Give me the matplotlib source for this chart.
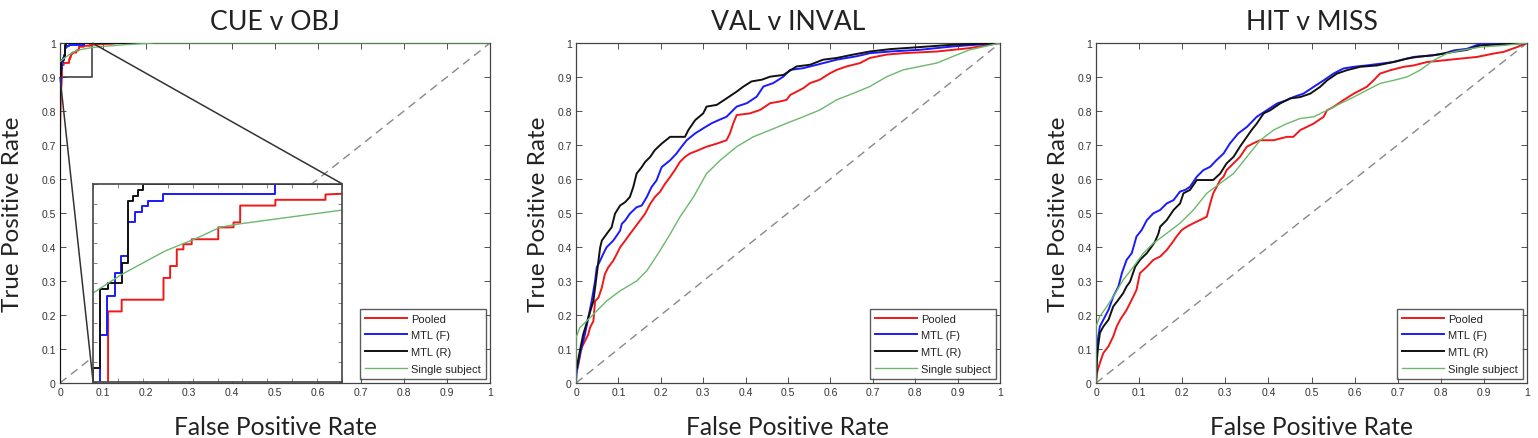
import matplotlib
matplotlib.use("Agg")
import matplotlib.pyplot as plt
from matplotlib.ticker import MultipleLocator, NullFormatter
from mpl_toolkits.axes_grid1.inset_locator import mark_inset

titles = ["CUE v OBJ", "VAL v INVAL", "HIT v MISS"]
series_names = ["Pooled", "MTL (F)", "MTL (R)", "Single subject"]
tick_vals = [0, 0.1, 0.2, 0.3, 0.4, 0.5, 0.6, 0.7, 0.8, 0.9, 1]
tick_labels = ["0", "0.1", "0.2", "0.3", "0.4", "0.5", "0.6", "0.7", "0.8", "0.9", "1"]

# ---- Panel 1: CUE v OBJ ----
p1_pooled_x = [0, 0, 0.002, 0.0045, 0.0045, 0.0086, 0.0086, 0.0212, 0.0212, 0.0232, 0.0232, 0.0252, 0.0252,
               0.0272, 0.0272, 0.0297, 0.0297, 0.0377, 0.0377, 0.0423, 0.0423, 0.0443, 0.0443, 0.0549,
               0.0549, 0.070, 0.070, 0.09, 0.12, 0.135, 1.0]
p1_pooled_y = [0, 0.73, 0.85, 0.90, 0.9356, 0.9356, 0.9415, 0.9415, 0.9525, 0.9525, 0.9585, 0.9585, 0.9669,
               0.9669, 0.9695, 0.9695, 0.972, 0.972, 0.978, 0.978, 0.9805, 0.9805, 0.989, 0.989,
               0.9919, 0.9919, 0.9946, 0.996, 0.998, 1.0, 1.0]
p1_mtlf_x = [0, 0, 0.002, 0.002, 0.00405, 0.00405, 0.0065, 0.0065, 0.00855, 0.00855, 0.0106, 0.0106,
             0.0126, 0.0126, 0.0146, 0.0146, 0.0166, 0.0166, 0.0212, 0.0212, 0.0549, 0.0549, 1.0]
p1_mtlf_y = [0, 0.86, 0.86, 0.9237, 0.9237, 0.9432, 0.9432, 0.9551, 0.9551, 0.9636, 0.9636, 0.9805,
             0.9805, 0.9856, 0.9856, 0.989, 0.989, 0.9915, 0.9915, 0.9949, 0.9949, 1.0, 1.0]
p1_mtlr_x = [0, 0, 0.002, 0.002, 0.0045, 0.0045, 0.0086, 0.0086, 0.0106, 0.0106, 0.012, 0.012,
             0.0135, 0.0135, 0.015, 0.015, 1.0]
p1_mtlr_y = [0, 0.907, 0.907, 0.947, 0.947, 0.95, 0.95, 0.96, 0.96, 0.9915, 0.9915, 0.994,
             0.994, 0.9966, 0.9966, 1.0, 1.0]
p1_single_x = [0, 0.00855, 0.0217, 0.0317, 0.0383, 0.0443, 0.0745, 0.10, 0.15, 0.22, 1.0]
p1_single_y = [0.9449, 0.9542, 0.9661, 0.9729, 0.9781, 0.9798, 0.9866, 0.990, 0.995, 1.0, 1.0]

# ---- Panel 2: VAL v INVAL ----
p2_pooled_x = [0, 0.0055, 0.013, 0.021, 0.029, 0.033, 0.041, 0.045, 0.053, 0.061, 0.068, 0.076, 0.088,
               0.096, 0.104, 0.116, 0.127, 0.139, 0.151, 0.163, 0.175, 0.186, 0.198, 0.210, 0.222,
               0.233, 0.245, 0.257, 0.269, 0.289, 0.308, 0.332, 0.355, 0.363, 0.371, 0.379, 0.410,
               0.434, 0.458, 0.481, 0.497, 0.505, 0.536, 0.552, 0.575, 0.599, 0.615, 0.638, 0.670,
               0.693, 0.733, 0.772, 0.851, 0.929, 1.0]
p2_pooled_y = [0.025, 0.054, 0.103, 0.123, 0.143, 0.163, 0.182, 0.241, 0.251, 0.281, 0.320, 0.340, 0.360,
               0.379, 0.399, 0.419, 0.438, 0.458, 0.478, 0.498, 0.527, 0.547, 0.562, 0.586, 0.606,
               0.626, 0.650, 0.665, 0.675, 0.685, 0.695, 0.704, 0.714, 0.734, 0.764, 0.788, 0.793,
               0.803, 0.823, 0.828, 0.833, 0.847, 0.867, 0.882, 0.892, 0.911, 0.921, 0.931, 0.941,
               0.956, 0.966, 0.970, 0.975, 0.985, 1.0]
p2_mtlf_x = [0, 0.0016, 0.009, 0.021, 0.029, 0.037, 0.045, 0.049, 0.057, 0.064, 0.072, 0.088, 0.104,
             0.108, 0.116, 0.127, 0.143, 0.155, 0.167, 0.178, 0.190, 0.202, 0.222, 0.237, 0.249,
             0.261, 0.281, 0.300, 0.320, 0.336, 0.355, 0.379, 0.403, 0.426, 0.442, 0.465, 0.489,
             0.505, 0.536, 0.568, 0.615, 0.662, 0.693, 0.741, 0.811, 0.890, 1.0]
p2_mtlf_y = [0, 0.034, 0.084, 0.143, 0.192, 0.241, 0.300, 0.340, 0.360, 0.379, 0.399, 0.419, 0.448,
             0.468, 0.478, 0.498, 0.517, 0.522, 0.547, 0.576, 0.596, 0.635, 0.655, 0.675, 0.695,
             0.714, 0.734, 0.749, 0.764, 0.773, 0.783, 0.813, 0.823, 0.842, 0.872, 0.882, 0.901,
             0.921, 0.926, 0.936, 0.951, 0.961, 0.970, 0.975, 0.980, 0.990, 1.0]
p2_mtlr_x = [0, 0, 0.0016, 0.009, 0.017, 0.029, 0.041, 0.047, 0.053, 0.057, 0.061, 0.072, 0.084, 0.092,
             0.104, 0.116, 0.127, 0.135, 0.143, 0.155, 0.163, 0.175, 0.186, 0.202, 0.222, 0.257,
             0.265, 0.281, 0.300, 0.308, 0.332, 0.355, 0.379, 0.395, 0.414, 0.438, 0.458, 0.489,
             0.520, 0.552, 0.583, 0.615, 0.654, 0.693, 0.741, 0.811, 0.890, 1.0]
p2_mtlr_y = [0, 0.04, 0.044, 0.094, 0.143, 0.192, 0.241, 0.300, 0.360, 0.399, 0.419, 0.438, 0.458, 0.498,
             0.522, 0.532, 0.547, 0.576, 0.616, 0.635, 0.650, 0.665, 0.685, 0.704, 0.724, 0.724,
             0.744, 0.773, 0.793, 0.813, 0.818, 0.837, 0.857, 0.872, 0.887, 0.892, 0.901, 0.906,
             0.931, 0.936, 0.951, 0.956, 0.966, 0.975, 0.982, 0.988, 0.995, 1.0]
p2_single_x = [0, 0, 0.009, 0.025, 0.049, 0.072, 0.104, 0.143, 0.167, 0.198, 0.222, 0.245, 0.277,
               0.308, 0.340, 0.379, 0.418, 0.458, 0.497, 0.536, 0.575, 0.615, 0.654, 0.693, 0.733,
               0.772, 0.811, 0.851, 0.890, 0.929, 1.0]
p2_single_y = [0, 0.133, 0.163, 0.182, 0.212, 0.241, 0.271, 0.300, 0.330, 0.389, 0.438, 0.488, 0.547,
               0.616, 0.655, 0.695, 0.724, 0.744, 0.764, 0.783, 0.803, 0.833, 0.852, 0.872, 0.901,
               0.921, 0.931, 0.941, 0.961, 0.980, 1.0]

# ---- Panel 3: HIT v MISS ----
p3_pooled_x = [0, 0.002, 0.009, 0.017, 0.029, 0.040, 0.048, 0.056, 0.071, 0.083, 0.094, 0.102, 0.118,
               0.133, 0.149, 0.164, 0.176, 0.187, 0.199, 0.211, 0.226, 0.241, 0.257, 0.265, 0.272,
               0.280, 0.288, 0.296, 0.303, 0.319, 0.334, 0.350, 0.365, 0.381, 0.412, 0.443, 0.458,
               0.474, 0.489, 0.505, 0.528, 0.536, 0.551, 0.574, 0.598, 0.613, 0.628, 0.644, 0.659,
               0.683, 0.714, 0.737, 0.768, 0.807, 0.845, 0.884, 0.923, 0.946, 0.977, 1.0]
p3_pooled_y = [0, 0.029, 0.059, 0.088, 0.108, 0.137, 0.166, 0.186, 0.215, 0.245, 0.274, 0.323, 0.342,
               0.362, 0.372, 0.391, 0.411, 0.431, 0.450, 0.460, 0.470, 0.479, 0.489, 0.528, 0.558,
               0.577, 0.597, 0.607, 0.626, 0.646, 0.665, 0.695, 0.705, 0.714, 0.714, 0.724, 0.724,
               0.744, 0.753, 0.763, 0.783, 0.802, 0.812, 0.832, 0.851, 0.861, 0.871, 0.890, 0.910,
               0.920, 0.930, 0.934, 0.944, 0.949, 0.954, 0.959, 0.969, 0.974, 0.988, 1.0]
p3_mtlf_x = [0, 0.002, 0.009, 0.017, 0.029, 0.040, 0.052, 0.060, 0.071, 0.083, 0.094, 0.106, 0.118,
             0.133, 0.149, 0.164, 0.180, 0.195, 0.207, 0.218, 0.234, 0.249, 0.265, 0.280, 0.296,
             0.311, 0.330, 0.350, 0.373, 0.396, 0.420, 0.443, 0.458, 0.481, 0.505, 0.528, 0.551,
             0.574, 0.598, 0.628, 0.659, 0.690, 0.721, 0.737, 0.783, 0.807, 0.830, 0.861, 0.892, 1.0]
p3_mtlf_y = [0, 0.108, 0.166, 0.186, 0.215, 0.254, 0.284, 0.323, 0.362, 0.382, 0.431, 0.450, 0.479,
             0.499, 0.509, 0.528, 0.538, 0.563, 0.568, 0.577, 0.607, 0.626, 0.636, 0.656, 0.675,
             0.705, 0.734, 0.753, 0.783, 0.802, 0.822, 0.832, 0.841, 0.851, 0.871, 0.890, 0.910,
             0.925, 0.930, 0.934, 0.939, 0.944, 0.954, 0.959, 0.964, 0.969, 0.978, 0.983, 0.998, 1.0]
p3_mtlr_x = [0, 0.002, 0.005, 0.009, 0.017, 0.029, 0.040, 0.052, 0.063, 0.071, 0.079, 0.091, 0.102,
             0.118, 0.129, 0.137, 0.145, 0.149, 0.164, 0.180, 0.195, 0.203, 0.218, 0.234, 0.272,
             0.288, 0.303, 0.319, 0.334, 0.350, 0.361, 0.373, 0.389, 0.404, 0.427, 0.450, 0.474,
             0.497, 0.520, 0.536, 0.559, 0.582, 0.613, 0.652, 0.690, 0.721, 0.745, 0.783, 0.830,
             0.861, 0.892, 1.0]
p3_mtlr_y = [0, 0.068, 0.108, 0.147, 0.166, 0.186, 0.225, 0.245, 0.264, 0.284, 0.298, 0.342, 0.362,
             0.382, 0.401, 0.416, 0.440, 0.460, 0.479, 0.509, 0.528, 0.558, 0.568, 0.597, 0.597,
             0.616, 0.646, 0.665, 0.695, 0.724, 0.744, 0.763, 0.793, 0.802, 0.822, 0.837, 0.841,
             0.851, 0.871, 0.890, 0.910, 0.920, 0.930, 0.934, 0.944, 0.954, 0.959, 0.964, 0.974,
             0.980, 0.993, 1.0]
p3_single_x = [0, 0, 0.009, 0.025, 0.040, 0.063, 0.087, 0.110, 0.133, 0.164, 0.195, 0.226, 0.257,
               0.288, 0.319, 0.350, 0.381, 0.412, 0.443, 0.474, 0.505, 0.536, 0.567, 0.598, 0.628,
               0.659, 0.690, 0.721, 0.752, 0.783, 0.814, 0.845, 0.892, 0.946, 1.0]
p3_single_y = [0, 0.166, 0.196, 0.225, 0.254, 0.303, 0.342, 0.382, 0.411, 0.440, 0.470, 0.509, 0.558,
               0.587, 0.616, 0.665, 0.714, 0.744, 0.763, 0.778, 0.783, 0.802, 0.822, 0.841, 0.861,
               0.881, 0.890, 0.900, 0.920, 0.949, 0.969, 0.978, 0.988, 0.993, 1.0]

panels = [
    [(p1_pooled_x, p1_pooled_y), (p1_mtlf_x, p1_mtlf_y), (p1_mtlr_x, p1_mtlr_y), (p1_single_x, p1_single_y)],
    [(p2_pooled_x, p2_pooled_y), (p2_mtlf_x, p2_mtlf_y), (p2_mtlr_x, p2_mtlr_y), (p2_single_x, p2_single_y)],
    [(p3_pooled_x, p3_pooled_y), (p3_mtlf_x, p3_mtlf_y), (p3_mtlr_x, p3_mtlr_y), (p3_single_x, p3_single_y)],
]

colors = ["#f01818", "#1a1aff", "#111111", "#6cb86c"]
widths = [1.4, 1.4, 1.4, 1.0]

W, H = 1538, 439
fig = plt.figure(figsize=(W / 100, H / 100), dpi=100)
fig.patch.set_facecolor("white")

boxes_px = [(60, 490), (576, 1000), (1096, 1527)]
ylabel_x_px = [23, 549, 1069]
top_px, bot_px = 44, 384
label_font = "Lato"

axes = []
for i, (l, r) in enumerate(boxes_px):
    ax = fig.add_axes([l / W, (H - bot_px) / H, (r - l) / W, (bot_px - top_px) / H])
    ax.set_xlim(0, 1)
    ax.set_ylim(0, 1)
    ax.tick_params(direction="in", length=4, width=0.6, top=True, right=True,
                   labelsize=7.5, colors="#333333", pad=3)
    for s in ax.spines.values():
        s.set_linewidth(0.9)
        s.set_color("#444444")
    ax.set_xticks(tick_vals)
    ax.set_xticklabels(tick_labels, family="Liberation Sans")
    ax.set_yticks(tick_vals)
    ax.set_yticklabels(tick_labels, family="Liberation Sans")
    ax.plot([0, 1], [0, 1], color="#888888", lw=1.0, dashes=(6, 4), zorder=1)
    for k, (xs, ys) in enumerate(panels[i]):
        ax.plot(xs, ys, color=colors[k], lw=widths[k], label=series_names[k], zorder=2 + k)
    ax.set_title(titles[i], family=label_font, fontsize=19.2, pad=10, color="#222222")
    ax.set_xlabel("False Positive Rate", family=label_font, fontsize=17.7, labelpad=13, color="#222222")
    ax.set_ylabel("True Positive Rate", family=label_font, fontsize=17.5, color="#222222")
    ax.yaxis.set_label_coords((ylabel_x_px[i] - l) / (r - l), 0.5)
    leg = ax.legend(loc="lower right", prop={"family": "Liberation Sans", "size": 8},
                    frameon=True, fancybox=False, edgecolor="#333333", handlelength=3.8,
                    borderpad=0.45, labelspacing=0.6, handletextpad=0.3, borderaxespad=0.4)
    leg.get_frame().set_linewidth(1.0)
    for t in leg.get_texts():
        t.set_color("#222222")
    axes.append(ax)

# inset for panel 1
ax1 = axes[0]
axins = ax1.inset_axes([0.077, 0.003, 0.579, 0.583])
for k, (xs, ys) in enumerate(panels[0]):
    axins.plot(xs, ys, color=colors[k], lw=widths[k])
axins.set_xlim(0, 0.075)
axins.set_ylim(0.9, 1.0)
axins.xaxis.set_major_locator(MultipleLocator(0.0075))
axins.yaxis.set_major_locator(MultipleLocator(0.01))
axins.xaxis.set_major_formatter(NullFormatter())
axins.yaxis.set_major_formatter(NullFormatter())
axins.tick_params(direction="in", length=3, width=0.5, top=True, right=True, colors="#555555")
for s in axins.spines.values():
    s.set_linewidth(1.2)
    s.set_color("#444444")
mark_inset(ax1, axins, loc1=1, loc2=3, fc="none", ec="#333333", lw=1.1)

fig.savefig("out.png", dpi=100, facecolor="white")
